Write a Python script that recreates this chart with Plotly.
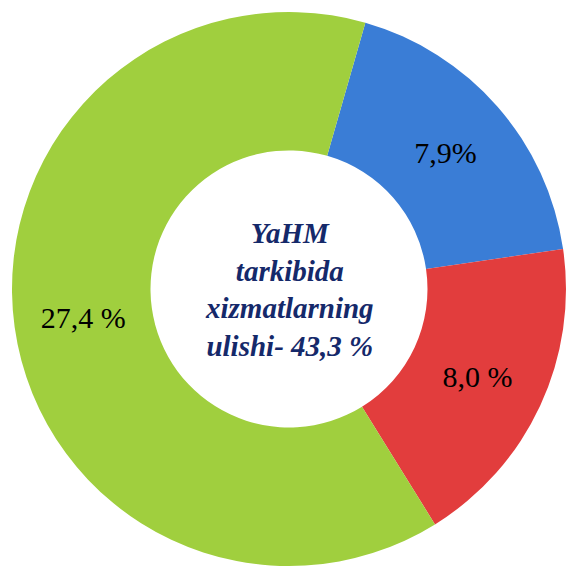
import plotly.graph_objects as go

categories = ["Blue segment", "Red segment", "Green segment"]
values = [7.9, 8.0, 27.4]
label_text = ["7,9%", "8,0 %", "27,4 %"]
colors = ["#3a7dd6", "#e23d3d", "#a0cf3e"]
center_lines = ["YaHM", "tarkibida", "xizmatlarning", "ulishi- 43,3 %"]

SERIF = "'Liberation Serif', 'Times New Roman', 'DejaVu Serif', serif"

fig = go.Figure(
    go.Pie(
        labels=categories,
        values=values,
        text=label_text,
        textinfo="text",
        textposition="inside",
        insidetextorientation="horizontal",
        hole=0.5,
        sort=False,
        direction="clockwise",
        rotation=16,
        marker=dict(colors=colors, line=dict(width=0)),
        textfont=dict(family=SERIF, size=30, color="black"),
        showlegend=False,
        hoverinfo="label+text",
    )
)

fig.add_annotation(
    x=0.5, y=0.5, xref="paper", yref="paper",
    text="<br>".join(f"<b><i>{s}</i></b>" for s in center_lines),
    showarrow=False,
    font=dict(family=SERIF, size=29, color="#15296a"),
    align="center",
)

fig.update_layout(
    width=567, height=568,
    margin=dict(l=12, r=1, t=12, b=2),
    paper_bgcolor="white",
    plot_bgcolor="white",
    font=dict(family=SERIF),
)

fig.write_html(
    "out.html",
    config={"displayModeBar": False},
    post_script="document.body.style.margin='0';document.body.style.overflow='hidden';",
)
